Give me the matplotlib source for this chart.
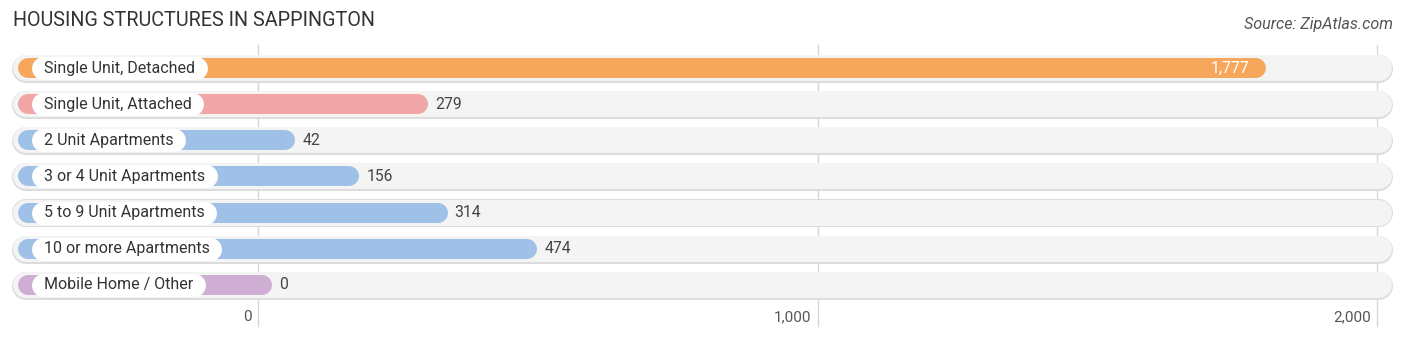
import matplotlib
matplotlib.use("Agg")
import matplotlib.pyplot as plt

categories = ["Single Unit, Detached", "Single Unit, Attached", "2 Unit Apartments",
              "3 or 4 Unit Apartments", "5 to 9 Unit Apartments", "10 or more Apartments",
              "Mobile Home / Other"]
values = [1777, 279, 42, 156, 314, 474, 0]
colors = ["#f6a75c", "#f0a5a6", "#9fc0e7", "#9fc0e7", "#9fc0e7", "#9fc0e7", "#cfaed3"]
ticks = [0, 1000, 2000]
tick_labels = ["0", "1,000", "2,000"]

W, H, DPI = 1406, 341, 100
fig = plt.figure(figsize=(W / DPI, H / DPI), dpi=DPI)
ax = fig.add_axes([0, 0, 1, 1])

# pixel <-> value mapping
x0_px, scale = 258.0, 559.5 / 1000.0
def px2v(p):
    return (p - x0_px) / scale

ax.set_xlim(px2v(0), px2v(W))
ax.set_ylim(H, 0)
ax.axis("off")

row0, step = 68.0, 36.15
pt = 72.0 / DPI  # points per pixel

# gridlines
for t in ticks:
    ax.plot([t, t], [45, 326], color="#d8d8d8", lw=1.0, zorder=0)

fig.canvas.draw()
renderer = fig.canvas.get_renderer()

for i, (cat, v, c) in enumerate(zip(categories, values, colors)):
    y = row0 + i * step
    # track
    ax.plot([px2v(12 + 14), px2v(1393 - 14)], [y + 0.8, y + 0.8], color="#dcdcdc",
            lw=28 * pt, solid_capstyle="round", zorder=1)
    ax.plot([px2v(12 + 14), px2v(1393 - 14)], [y, y], color="#f4f4f4",
            lw=26 * pt, solid_capstyle="round", zorder=2)
    # bar
    ax.plot([px2v(28), v + 4 / scale], [y, y], color=c, lw=20 * pt,
            solid_capstyle="round", zorder=3)
    # label text + pill
    txt = ax.text(px2v(44), y, cat, ha="left", va="center", fontsize=11.5, color="#333333",
                  family="Roboto", zorder=5)
    bb = txt.get_window_extent(renderer)
    left_px, right_px = 31, bb.x1 + 12
    ax.plot([px2v(left_px + 11.5), px2v(right_px - 11.5)], [y, y], color="white",
            lw=23 * pt, solid_capstyle="round", zorder=4)
    # value label
    if v > 1500:
        ax.text(v - 3 / scale, y, f"{v:,}", ha="right", va="center", fontsize=11.3,
                color="white", family="Roboto", zorder=6)
    else:
        ax.text(v + 21 / scale, y, f"{v:,}", ha="left", va="center", fontsize=11.3,
                color="#444444", family="Roboto", zorder=6)

for t, lab in zip(ticks, tick_labels):
    ax.text(t - 6 / scale, 317, lab, ha="right", va="center", fontsize=11,
            color="#555555", family="Roboto")

fig.text(13 / W, 1 - 21 / H, "HOUSING STRUCTURES IN SAPPINGTON", ha="left", va="center",
         fontsize=14.2, color="#333333", family="Roboto")
fig.text(1393 / W, 1 - 25 / H, "Source: ZipAtlas.com", ha="right", va="center",
         fontsize=11.6, color="#555555", family="Roboto", style="italic")

fig.savefig("out.png", dpi=DPI)
